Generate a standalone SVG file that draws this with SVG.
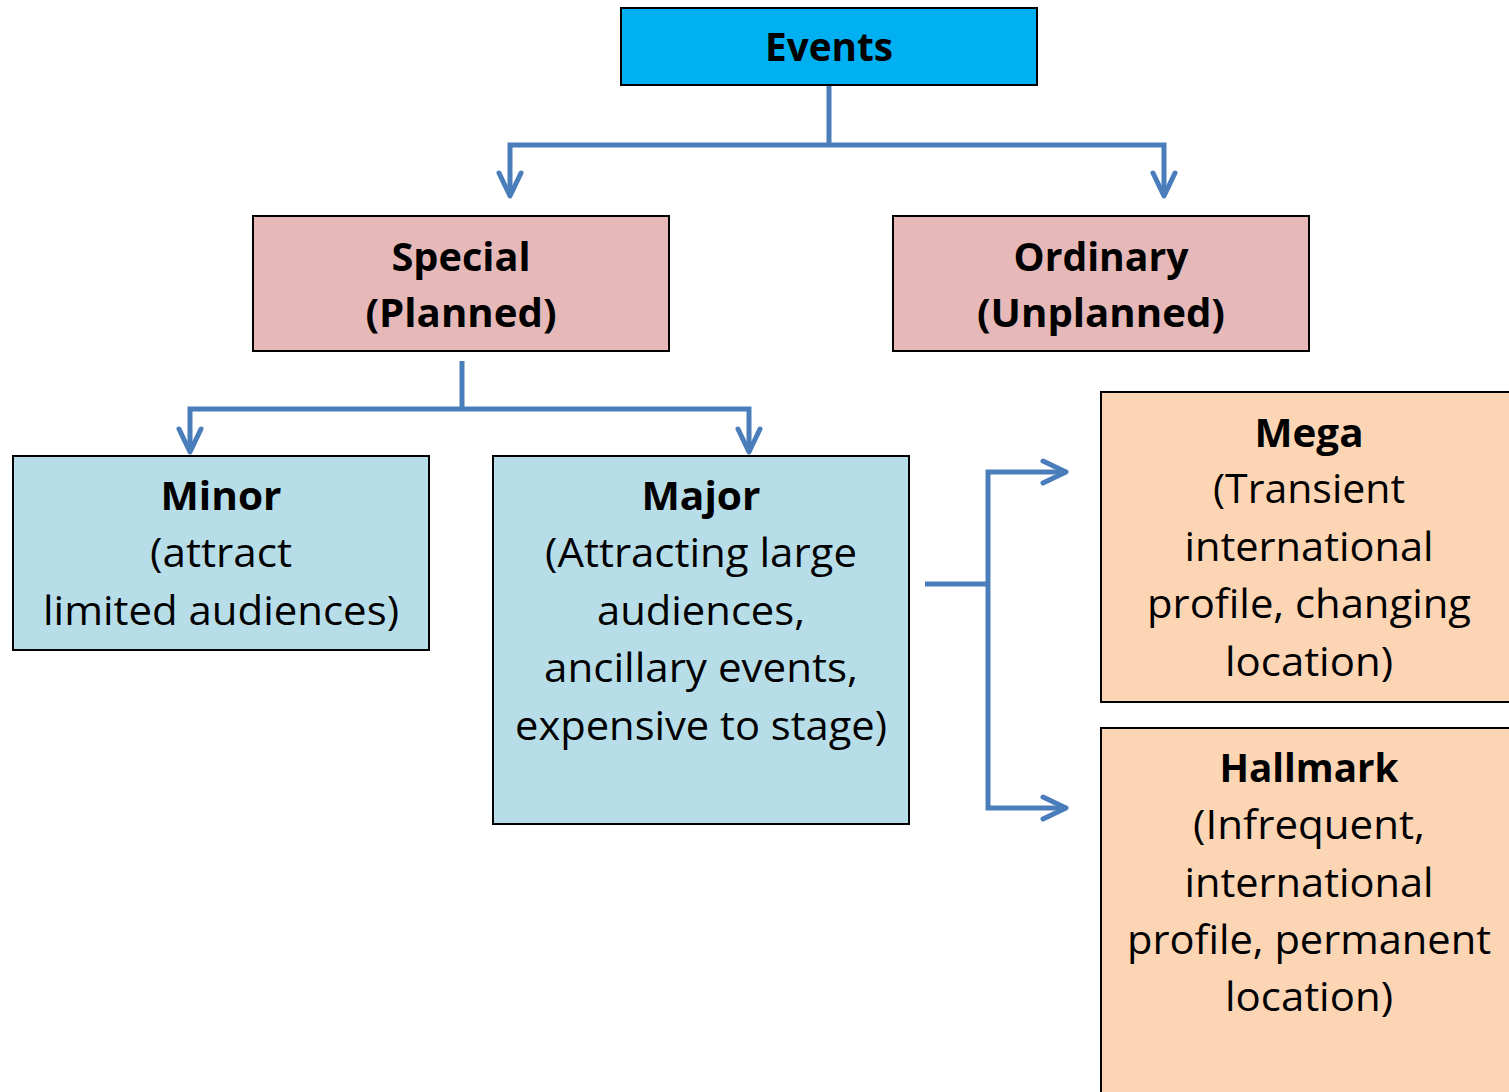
<svg xmlns="http://www.w3.org/2000/svg" width="1509" height="1092" viewBox="0 0 1509 1092">
<style>
.box{stroke:#000;stroke-width:2}
.t{font-family:"Open Sans","Noto Sans",sans-serif;font-size:40px;fill:#000;text-anchor:middle}
.b{font-weight:bold}
.c{fill:none;stroke:#4A7EBB;stroke-width:5;stroke-linejoin:miter}
.blue{fill:#00B0F0}.pink{fill:#E6B9B8}.lb{fill:#B7DEE8}.or{fill:#FCD5B5}
</style>
<defs>
<marker id="arr" markerUnits="userSpaceOnUse" markerWidth="40" markerHeight="40" refX="30" refY="20" orient="auto" overflow="visible">
<path d="M7,9 L30,20 L7,31" fill="none" stroke="#4A7EBB" stroke-width="5" stroke-linecap="round" stroke-linejoin="round"/>
</marker>
</defs>
<rect width="1509" height="1092" fill="#fff"/>
<g id="connectors">
<path class="c" d="M829,86 V145"/>
<path class="c" d="M829,145 H510 V196" marker-end="url(#arr)"/>
<path class="c" d="M829,145 H1164 V196" marker-end="url(#arr)"/>
<path class="c" d="M462,361 V409"/>
<path class="c" d="M462,409 H190 V452" marker-end="url(#arr)"/>
<path class="c" d="M462,409 H749 V452" marker-end="url(#arr)"/>
<path class="c" d="M925,584 H988"/>
<path class="c" d="M988,584 V472 H1066" marker-end="url(#arr)"/>
<path class="c" d="M988,584 V808 H1066" marker-end="url(#arr)"/>
</g>
<g id="events">
<rect class="box blue" x="621" y="8" width="416" height="77"/>
<text class="t b" x="829" y="61" textLength="128" lengthAdjust="spacingAndGlyphs">Events</text>
</g>
<g id="special">
<rect class="box pink" x="253" y="216" width="416" height="135"/>
<text class="t b" x="461" y="271" textLength="139" lengthAdjust="spacingAndGlyphs">Special</text>
<text class="t b" x="461" y="327" textLength="191" lengthAdjust="spacingAndGlyphs">(Planned)</text>
</g>
<g id="ordinary">
<rect class="box pink" x="893" y="216" width="416" height="135"/>
<text class="t b" x="1101" y="271" textLength="175" lengthAdjust="spacingAndGlyphs">Ordinary</text>
<text class="t b" x="1101" y="327" textLength="248" lengthAdjust="spacingAndGlyphs">(Unplanned)</text>
</g>
<g id="minor">
<rect class="box lb" x="13" y="456" width="416" height="194"/>
<text class="t b" x="221" y="510" textLength="121" lengthAdjust="spacingAndGlyphs">Minor</text>
<text class="t" x="221" y="567" textLength="142" lengthAdjust="spacingAndGlyphs">(attract</text>
<text class="t" x="221" y="625" textLength="356" lengthAdjust="spacingAndGlyphs">limited audiences)</text>
</g>
<g id="major">
<rect class="box lb" x="493" y="456" width="416" height="368"/>
<text class="t b" x="701" y="510" textLength="119" lengthAdjust="spacingAndGlyphs">Major</text>
<text class="t" x="701" y="567" textLength="312" lengthAdjust="spacingAndGlyphs">(Attracting large</text>
<text class="t" x="701" y="625" textLength="208" lengthAdjust="spacingAndGlyphs">audiences,</text>
<text class="t" x="701" y="682" textLength="314" lengthAdjust="spacingAndGlyphs">ancillary events,</text>
<text class="t" x="701" y="740" textLength="372" lengthAdjust="spacingAndGlyphs">expensive to stage)</text>
</g>
<g id="mega">
<rect class="box or" x="1101" y="392" width="416" height="310"/>
<text class="t b" x="1309" y="447" textLength="109" lengthAdjust="spacingAndGlyphs">Mega</text>
<text class="t" x="1309" y="503" textLength="192" lengthAdjust="spacingAndGlyphs">(Transient</text>
<text class="t" x="1309" y="561" textLength="249" lengthAdjust="spacingAndGlyphs">international</text>
<text class="t" x="1309" y="618" textLength="324" lengthAdjust="spacingAndGlyphs">profile, changing</text>
<text class="t" x="1309" y="676" textLength="168" lengthAdjust="spacingAndGlyphs">location)</text>
</g>
<g id="hallmark">
<rect class="box or" x="1101" y="728" width="416" height="380"/>
<text class="t b" x="1309" y="782" textLength="179" lengthAdjust="spacingAndGlyphs">Hallmark</text>
<text class="t" x="1309" y="839" textLength="232" lengthAdjust="spacingAndGlyphs">(Infrequent,</text>
<text class="t" x="1309" y="897" textLength="249" lengthAdjust="spacingAndGlyphs">international</text>
<text class="t" x="1309" y="954" textLength="364" lengthAdjust="spacingAndGlyphs">profile, permanent</text>
<text class="t" x="1309" y="1011" textLength="168" lengthAdjust="spacingAndGlyphs">location)</text>
</g>
</svg>
